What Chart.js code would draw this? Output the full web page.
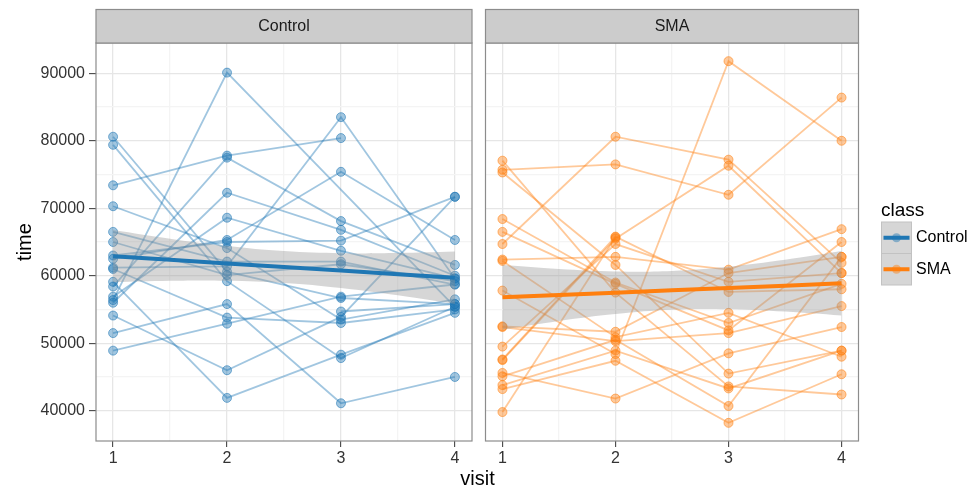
<!DOCTYPE html>
<html>
<head>
<meta charset="utf-8">
<script src="https://cdn.jsdelivr.net/npm/chart.js@4.4.0/dist/chart.umd.min.js"></script>
<style>
html, body { margin: 0; padding: 0; background: #fff; }
#wrap { position: relative; width: 972px; height: 489px; }
canvas { position: absolute; top: 0; }
#control-canvas { left: 0; }
#sma-canvas { left: 480px; }
</style>
</head>
<body>
<div id="wrap">
	<canvas id="control-canvas" width="972" height="489"></canvas>
	<canvas id="sma-canvas" width="384" height="489"></canvas>
</div>
<script>
const visits = [1, 2, 3, 4];
const xTicks = [1, 1.5, 2, 2.5, 3, 3.5, 4];
const yTicks = [40000, 45000, 50000, 55000, 60000, 65000, 70000, 75000, 80000, 85000, 90000];
const classes = ['Control', 'SMA'];

// one entry per subject, null = visit missing
const controlVisit1 = [80600, 79400, 73400, 70300, 66500, 65000, 63000, 62500, 61200, 59100, 58400, 56900, 56400, 56000, 54100, 51500, 48900, 61000, null];
const controlVisit2 = [60600, 59200, 77800, 64100, 62100, 60100, 65000, 65300, 61400, 41900, 77500, 68600, 90100, 72300, 46000, 55800, 52900, 53800, null];
const controlVisit3 = [56700, 47800, 80400, 53500, 62100, 61700, 65200, 75400, 83500, 48300, 68100, 63700, null, 66800, 53900, 41100, 56900, 53000, 54700];
const controlVisit4 = [55800, 55400, null, 56500, 58700, 59200, 71700, 65300, 59600, 54500, 61600, 59600, 55400, 60000, 71700, 45000, 58700, 55000, 55800];

const smaVisit1 = [75700, 64700, 77050, 75300, 68400, 66500, 62400, 62200, 57800, 52500, 52400, 49500, 47600, 47500, 45600, 45100, 43800, 43200, 39800];
const smaVisit2 = [76500, 80600, 57500, 61600, 59000, 58800, 62800, 50900, 48400, 51700, 50300, 64700, 65800, 65500, 41800, 50500, 48900, 47400, 65700];
const smaVisit3 = [72000, 77200, 43600, 45500, 53000, 51900, 60900, 54500, 91800, 60400, 51500, 59100, 57600, 76300, 48500, 40700, 43300, 38200, null];
const smaVisit4 = [86400, 61900, 42400, 48900, 58800, 65000, 66900, 48000, 80000, 62800, 55500, 60400, 58000, 60400, 52400, 62800, 48900, 45400, null];

// linear fit and its confidence band
const fitVisits = [1, 1.5, 2, 2.5, 3, 3.5, 4];
const controlFit = [62900, 62370, 61830, 61300, 60770, 60230, 59700];
const controlUpper = [66780, 65500, 64410, 63670, 63350, 63360, 63580];
const controlLower = [59020, 59240, 59250, 58930, 58190, 57100, 55830];
const smaFit = [56800, 57150, 57490, 57840, 58190, 58530, 58880];
const smaUpper = [61580, 60990, 60640, 60720, 61340, 62370, 63660];
const smaLower = [52020, 53310, 54340, 54960, 55040, 54690, 54100];

const rgbOf = { Control: '31,119,180', SMA: '255,127,14' };
const FONT = "'Liberation Sans', Arial, sans-serif";
Chart.defaults.font.family = FONT;

const toPoints = (xs, ys) => ys.map((y, i) => ({ x: xs[i], y }));

const getDatasets = (cls, v1, v2, v3, v4, fit, upper, lower) => {
	const rgb = rgbOf[cls];
	const subjects = v1.map((_, i) => ({
		data: toPoints(visits, [v1[i], v2[i], v3[i], v4[i]]),
		borderColor: `rgba(${rgb},0.42)`,
		borderWidth: 1.8,
		pointRadius: 4.5,
		pointBackgroundColor: `rgba(${rgb},0.42)`,
		pointBorderColor: `rgba(${rgb},0.55)`,
		pointBorderWidth: 1,
		spanGaps: true,
		tension: 0,
		fill: false
	}));
	return [
		{
			data: toPoints(fitVisits, fit),
			borderColor: `rgb(${rgb})`,
			borderWidth: 4,
			pointRadius: 0,
			tension: 0,
			fill: false
		},
		{
			data: toPoints(fitVisits, upper),
			borderWidth: 0,
			borderColor: 'rgba(0,0,0,0)',
			backgroundColor: 'rgba(153,153,153,0.4)',
			pointRadius: 0,
			tension: 0.4,
			fill: '+1'
		},
		{
			data: toPoints(fitVisits, lower),
			borderWidth: 0,
			borderColor: 'rgba(0,0,0,0)',
			pointRadius: 0,
			tension: 0.4,
			fill: false
		},
		...subjects
	];
};

const gridColor = (ctx, step) => {
	if (!ctx.tick) return '#ebebeb';
	return ctx.tick.value % step === 0 ? '#e6e6e6' : '#f4f4f4';
};
const tickMarkColor = (ctx, step) => {
	if (!ctx.tick) return '#333';
	return ctx.tick.value % step === 0 ? '#333' : 'rgba(0,0,0,0)';
};

// strip on top, border round the panel
const panelPlugin = label => ({
	id: 'panel',
	afterDatasetsDraw(chart) {
		const { ctx, chartArea: a } = chart;
		ctx.save();
		ctx.strokeStyle = '#8c8c8c';
		ctx.lineWidth = 1.2;
		ctx.strokeRect(a.left, a.top, a.right - a.left, a.bottom - a.top);
		ctx.fillStyle = '#cccccc';
		ctx.fillRect(a.left, 9.5, a.right - a.left, a.top - 9.5);
		ctx.strokeRect(a.left, 9.5, a.right - a.left, a.top - 9.5);
		ctx.fillStyle = '#1a1a1a';
		ctx.font = `16px ${FONT}`;
		ctx.textAlign = 'center';
		ctx.textBaseline = 'middle';
		ctx.fillText(label, (a.left + a.right) / 2, (9.5 + a.top) / 2);
		ctx.restore();
	}
});

// axis titles and legend live on the full-width canvas
const decorPlugin = {
	id: 'decor',
	afterDraw(chart) {
		const { ctx } = chart;
		ctx.save();
		ctx.fillStyle = '#000';
		ctx.font = `20px ${FONT}`;
		ctx.textAlign = 'center';
		ctx.textBaseline = 'middle';
		ctx.fillText('visit', 477.5, 479);
		ctx.translate(25, 242);
		ctx.rotate(-Math.PI / 2);
		ctx.fillText('time', 0, 0);
		ctx.restore();

		ctx.save();
		ctx.font = `19px ${FONT}`;
		ctx.fillStyle = '#000';
		ctx.textAlign = 'left';
		ctx.textBaseline = 'alphabetic';
		ctx.fillText('class', 881, 216);
		classes.forEach((cls, i) => {
			const top = 222 + i * 31.5;
			const mid = top + 15.75;
			ctx.fillStyle = '#d6d6d6';
			ctx.fillRect(881.5, top, 30, 31.5);
			ctx.strokeStyle = '#c2c2c2';
			ctx.lineWidth = 1;
			ctx.strokeRect(881.5, top, 30, 31.5);
			ctx.strokeStyle = `rgb(${rgbOf[cls]})`;
			ctx.lineWidth = 4;
			ctx.beginPath();
			ctx.moveTo(883.5, mid);
			ctx.lineTo(909.5, mid);
			ctx.stroke();
			ctx.fillStyle = `rgba(${rgbOf[cls]},0.45)`;
			ctx.beginPath();
			ctx.arc(896.5, mid, 4.5, 0, Math.PI * 2);
			ctx.fill();
			ctx.fillStyle = '#000';
			ctx.font = `16px ${FONT}`;
			ctx.textBaseline = 'middle';
			ctx.fillText(cls, 916, mid);
		});
		ctx.restore();
	}
};

const getOptions = (showY, padding) => ({
	responsive: false,
	animation: false,
	events: [],
	layout: { padding },
	plugins: { legend: { display: false }, tooltip: { enabled: false } },
	scales: {
		x: {
			type: 'linear',
			min: 0.85,
			max: 4.15,
			afterBuildTicks: s => { s.ticks = xTicks.map(v => ({ value: v })); },
			afterFit: s => { s.height = 48; },
			border: { display: false },
			grid: {
				color: ctx => gridColor(ctx, 1),
				lineWidth: 1.3,
				tickLength: 6,
				tickWidth: 1,
				tickColor: ctx => tickMarkColor(ctx, 1)
			},
			ticks: {
				autoSkip: false,
				maxRotation: 0,
				padding: 2,
				color: '#333',
				font: { size: 16 },
				callback: v => Number.isInteger(v) ? String(v) : ''
			}
		},
		y: {
			type: 'linear',
			min: 35510,
			max: 94490,
			afterBuildTicks: s => { s.ticks = yTicks.map(v => ({ value: v })); },
			afterFit: s => { s.width = showY ? 96 : 0; },
			border: { display: false },
			grid: {
				color: ctx => gridColor(ctx, 10000),
				lineWidth: 1.3,
				drawTicks: showY,
				tickLength: 7,
				tickWidth: 1,
				tickColor: ctx => tickMarkColor(ctx, 10000)
			},
			ticks: {
				display: showY,
				autoSkip: false,
				padding: 4,
				color: '#333',
				font: { size: 16 },
				callback: v => v % 10000 === 0 ? String(v) : ''
			}
		}
	}
});

new Chart(document.getElementById('control-canvas').getContext('2d'), {
	type: 'line',
	data: {
		datasets: getDatasets('Control', controlVisit1, controlVisit2, controlVisit3, controlVisit4, controlFit, controlUpper, controlLower)
	},
	options: getOptions(true, { top: 43, right: 500, left: 0, bottom: 0 }),
	plugins: [panelPlugin('Control'), decorPlugin]
});

new Chart(document.getElementById('sma-canvas').getContext('2d'), {
	type: 'line',
	data: {
		datasets: getDatasets('SMA', smaVisit1, smaVisit2, smaVisit3, smaVisit4, smaFit, smaUpper, smaLower)
	},
	options: getOptions(false, { top: 43, right: 5, left: 3, bottom: 0 }),
	plugins: [panelPlugin('SMA')]
});
</script>
</body>
</html>
